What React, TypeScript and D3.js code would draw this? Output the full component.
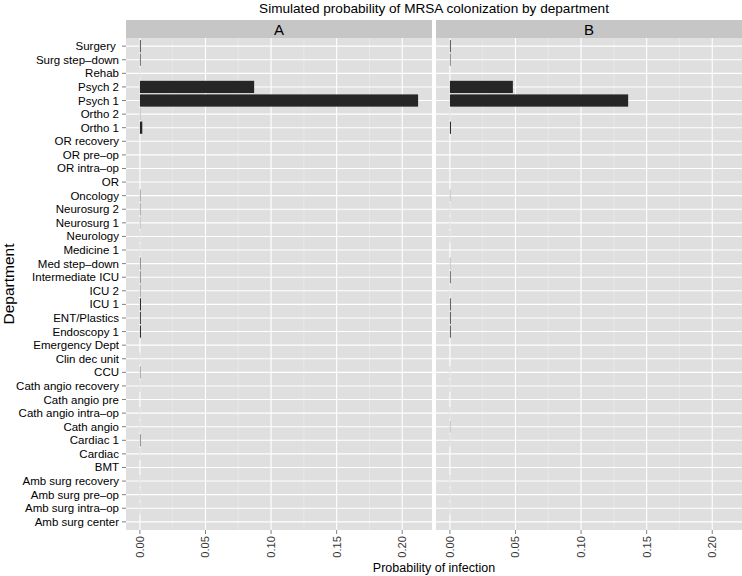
import React from "react";
import * as d3 from "d3";

const departments = [
  "Surgery ", "Surg step–down", "Rehab", "Psych 2", "Psych 1", "Ortho 2", "Ortho 1",
  "OR recovery", "OR pre–op", "OR intra–op", "OR", "Oncology", "Neurosurg 2", "Neurosurg 1",
  "Neurology", "Medicine 1", "Med step–down", "Intermediate ICU", "ICU 2", "ICU 1",
  "ENT/Plastics", "Endoscopy 1", "Emergency Dept", "Clin dec unit", "CCU",
  "Cath angio recovery", "Cath angio pre", "Cath angio intra–op", "Cath angio", "Cardiac 1",
  "Cardiac", "BMT", "Amb surg recovery", "Amb surg pre–op", "Amb surg intra–op", "Amb surg center",
];

const probA = [
  0.0006, 0.0005, 0.0001, 0.0871, 0.2121, 0.0002, 0.0018,
  0, 0, 0, 0, 0.0003, 0.0003, 0.0002,
  0.0001, 0.0001, 0.0004, 0.0004, 0.0003, 0.0008,
  0.0007, 0.0008, 0, 0.0001, 0.0003,
  0.0001, 0, 0.0001, 0.0001, 0.0004,
  0.0001, 0, 0.0001, 0.0001, 0.0001, 0,
];

const probB = [
  0.0006, 0.0004, 0, 0.048, 0.1359, 0.0001, 0.0008,
  0, 0, 0, 0, 0.0002, 0.0001, 0.0001,
  0.0001, 0, 0.0002, 0.0005, 0.0001, 0.0006,
  0.0006, 0.0006, 0, 0, 0.0001,
  0.0001, 0, 0.0001, 0.0002, 0.0001,
  0, 0, 0.0001, 0.0001, 0.0001, 0,
];

const facets = ["A", "B"];
const xTicks = [0, 0.05, 0.1, 0.15, 0.2];
const xMinor = [0.025, 0.075, 0.125, 0.175];
const title = "Simulated probability of MRSA colonization by department";
const xTitle = "Probability of infection";
const yTitle = "Department";

const FONT = "'Liberation Sans', Arial, Helvetica, sans-serif";

export default function App() {
  const W = 742, H = 576;
  const panelTop = 38, panelBottom = 530;
  const stripTop = 20;
  const panels = [
    { x0: 126, x1: 432, data: probA, label: facets[0] },
    { x0: 436, x1: 742, data: probB, label: facets[1] },
  ];
  const maxV = d3.max([...probA, ...probB]) as number;
  const pad = maxV * 0.05;

  const y = d3.scaleBand<string>()
    .domain(departments)
    .range([panelTop, panelBottom])
    .paddingInner(0.1)
    .paddingOuter(0.15);
  const yc = (d: string) => (y(d) as number) + y.bandwidth() / 2;

  return (
    <div style={{ position: "absolute", left: 0, top: 0 }}>
      <svg width={W} height={H} style={{ display: "block", fontFamily: FONT }}>
        <rect x={0} y={0} width={W} height={H} fill="#ffffff" />
        <text x={(126 + 742) / 2} y={13} textAnchor="middle" fontSize={13.6} fill="#000">{title}</text>
        {panels.map((p, pi) => {
          const x = d3.scaleLinear().domain([-pad, maxV + pad]).range([p.x0, p.x1]);
          return (
            <g key={pi}>
              <rect x={p.x0} y={stripTop} width={p.x1 - p.x0} height={panelTop - stripTop} fill="#C6C6C6" />
              <text x={(p.x0 + p.x1) / 2} y={(stripTop + panelTop) / 2 + 5.5} textAnchor="middle" fontSize={15} fill="#000">{p.label}</text>
              <rect x={p.x0} y={panelTop} width={p.x1 - p.x0} height={panelBottom - panelTop} fill="#DFDFDF" />
              {xMinor.map((t) => (
                <line key={"m" + t} x1={x(t)} x2={x(t)} y1={panelTop} y2={panelBottom} stroke="#ECECEC" strokeWidth={0.6} />
              ))}
              {departments.map((d) => (
                <line key={"h" + d} x1={p.x0} x2={p.x1} y1={yc(d)} y2={yc(d)} stroke="#FFFFFF" strokeWidth={1.1} />
              ))}
              {xTicks.map((t) => (
                <line key={"g" + t} x1={x(t)} x2={x(t)} y1={panelTop} y2={panelBottom} stroke="#FFFFFF" strokeWidth={1.1} />
              ))}
              {departments.map((d, i) => p.data[i] > 0 ? (
                <rect key={"b" + d} x={x(0)} y={y(d) as number} width={x(p.data[i]) - x(0)} height={y.bandwidth()} fill="#262626" />
              ) : null)}
              {xTicks.map((t) => (
                <g key={"t" + t}>
                  <line x1={x(t)} x2={x(t)} y1={panelBottom} y2={panelBottom + 4} stroke="#7F7F7F" strokeWidth={1} />
                  <text transform={`translate(${x(t) + 4},${panelBottom + 6}) rotate(-90)`} textAnchor="end" fontSize={11.2} fill="#333">{d3.format(".2f")(t)}</text>
                </g>
              ))}
            </g>
          );
        })}
        {departments.map((d) => (
          <g key={"y" + d}>
            <line x1={122} x2={126} y1={yc(d)} y2={yc(d)} stroke="#7F7F7F" strokeWidth={1} />
            <text x={119} y={yc(d) + 4} textAnchor="end" fontSize={11.5} fill="#000" style={{ whiteSpace: "pre" }}>{d}</text>
          </g>
        ))}
        <text x={(126 + 742) / 2} y={572} textAnchor="middle" fontSize={12.5} fill="#000">{xTitle}</text>
        <text transform={`translate(14,${(panelTop + panelBottom) / 2}) rotate(-90)`} textAnchor="middle" fontSize={15.5} fill="#000">{yTitle}</text>
      </svg>
    </div>
  );
}
